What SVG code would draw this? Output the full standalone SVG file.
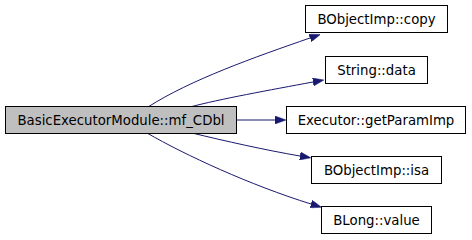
<svg xmlns="http://www.w3.org/2000/svg" width="472" height="240" viewBox="0 0 472 240">
<style>
.node rect{fill:#ffffff;stroke:#000000;stroke-width:1}
.node.main rect{fill:#bfbfbf}
.node text{font-family:"DejaVu Sans","Liberation Sans",sans-serif;font-size:13.3px;fill:#000000;text-anchor:middle}
.edges path{fill:none;stroke:#191970;stroke-width:1;marker-end:url(#arrow)}
</style>
<defs>
<marker id="arrow" viewBox="0 0 11 8" refX="0" refY="4" markerWidth="11" markerHeight="8" markerUnits="userSpaceOnUse" orient="auto">
<path d="M0,0 L11,4 L0,8 z" fill="#191970" stroke="#191970" stroke-width="0.5"/>
</marker>
</defs>
<rect width="472" height="240" fill="#ffffff"/>
<g id="edges" class="edges">
<path d="M148,107 C190,80 255,57 310,38"/>
<path d="M190,107 C220,99 270,90 313,82"/>
<path d="M237,120 L275,120"/>
<path d="M192,133 C225,141 265,150 300,156"/>
<path d="M147,133 C185,155 250,185 311,204"/>
</g>
<g id="node-main" class="node main">
<rect x="5.5" y="106.5" width="231" height="27"/>
<text x="121" y="124.5">BasicExecutorModule::mf_CDbl</text>
</g>
<g id="node-copy" class="node">
<rect x="305.5" y="5.5" width="142" height="27"/>
<text x="376.5" y="23.5">BObjectImp::copy</text>
</g>
<g id="node-data" class="node">
<rect x="325.5" y="56.5" width="102" height="27"/>
<text x="376.5" y="74.5">String::data</text>
</g>
<g id="node-getparam" class="node">
<rect x="286.5" y="106.5" width="179" height="27"/>
<text x="376" y="124.5">Executor::getParamImp</text>
</g>
<g id="node-isa" class="node">
<rect x="311.5" y="156.5" width="130" height="27"/>
<text x="376.5" y="174.5">BObjectImp::isa</text>
</g>
<g id="node-value" class="node">
<rect x="321.5" y="206.5" width="110" height="27"/>
<text x="376.5" y="224.5">BLong::value</text>
</g>
</svg>
